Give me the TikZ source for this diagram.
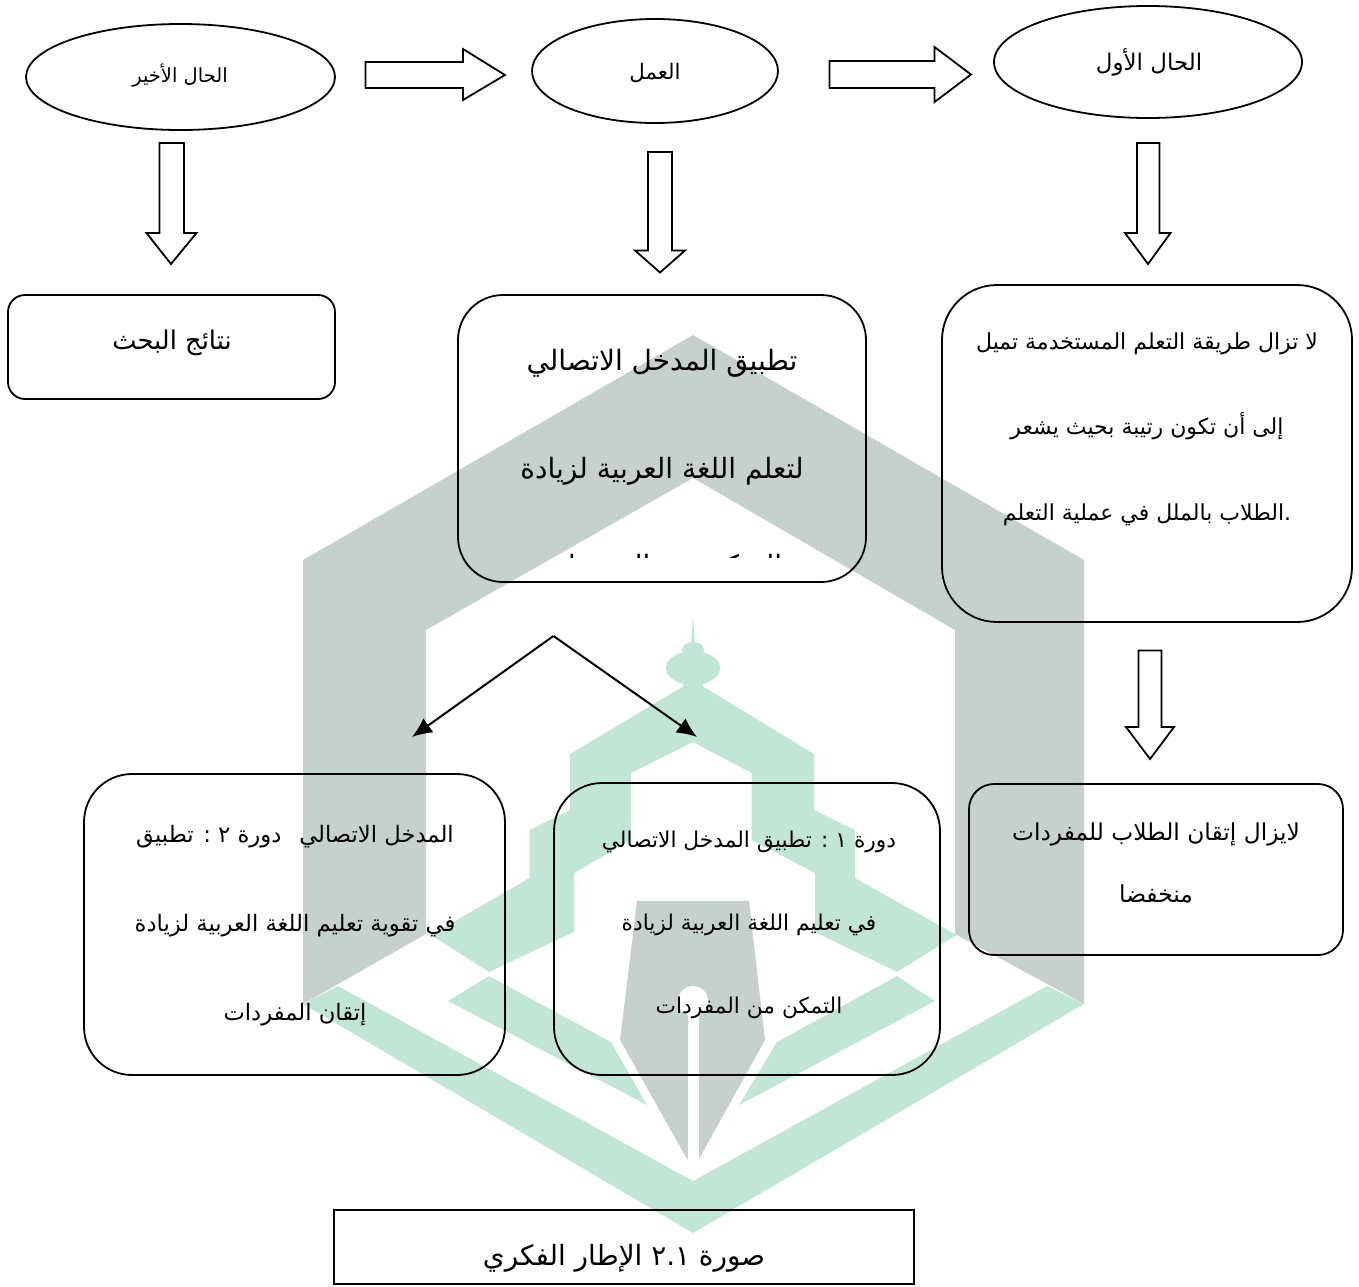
\documentclass[tikz,border=0pt]{standalone}
\usepackage{fontspec}
\usetikzlibrary{shapes.geometric,arrows.meta}
\TeXXeTstate=1
\newfontfamily\arabicfont[Script=Arabic]{DejaVu Sans}
\definecolor{wmgray}{RGB}{198,209,205}
\definecolor{wmgreen}{RGB}{194,230,213}
\newcommand{\artxt}[2]{\fontsize{#1}{#2}\arabicfont}
\newcommand{\rl}[1]{\beginR #1\endR}
\newcommand{\roundbox}[6]{\node[rbox,rounded corners={#6*0.75pt},minimum width={(#4-#2)*0.75pt},minimum height={(#5-#3)*0.75pt}] (#1) at ({(#2+#4)/2},{(#3+#5)/2}) {};}
\newcommand{\hblock}[8]{\draw[blockline] (#1,#4) -- (#3,#4) -- (#3,#6) -- (#2,#8) -- (#3,#7) -- (#3,#5) -- (#1,#5) -- cycle;}
\tikzset{
  rbox/.style={draw=black,line width=1.35pt,inner sep=0pt,rectangle},
  ovalbox/.style={draw=black,line width=1.35pt,inner sep=0pt,ellipse},
  blockline/.style={draw=black,line width=1.35pt,line join=miter},
  lab/.style={inner sep=0pt,align=center,text=black},
  thinarrow/.style={draw=black,line width=1.5pt,-{Latex[length=15pt,width=13pt]}}
}
\begin{document}
\begin{tikzpicture}[x=0.75pt,y=-0.75pt]
\useasboundingbox (0,0) rectangle (1359,1286);
% watermark
\fill[wmgray] (303,560)--(693,335)--(1084,560)--(1084,1004)--(955,934)--(955,630)--(693,478)--(426,630)--(426,934)--(303,1004)--cycle;
\fill[wmgreen] (303,1004)--(338,986)--(693,1181)--(1047,986)--(1084,1004)--(693,1233)--cycle;
\fill[wmgreen] (448,1001)--(489,976)--(611,1042)--(647,1105)--cycle;
\fill[wmgreen] (935,1001)--(897,976)--(777,1042)--(739,1105)--cycle;
\fill[wmgreen] (693,742)--(631,773)--(631,840)--(574,873)--(574,932)--(489,972)--(431,935)--(529.5,878)--(529.5,830)--(570,810)--(570,754)--(682,687)--(704,687)--(814,754)--(814,810)--(855,830)--(855,878)--(956.5,935)--(897,972)--(815,932)--(815,873)--(751.6,840)--(751.6,773)--cycle;
\fill[wmgreen] (693,668) ellipse [x radius=27,y radius=17];
\fill[wmgreen] (693,650) ellipse [x radius=11,y radius=8];
\fill[wmgreen] (691,645)--(693,615)--(695,645)--cycle;
\fill[wmgreen] (683,680) rectangle (703,692);
\fill[wmgray] (637,901)--(749,901)--(765,1040)--(699,1159)--(687,1159)--(620,1040)--cycle;
\fill[white] (693,1001) circle [radius=15];
\fill[white] (687.5,1001) rectangle (698.5,1165);
% ellipses
\node[ovalbox,minimum width={309*0.75pt},minimum height={106*0.75pt}] (e1) at (180.5,77) {};
\node[ovalbox,minimum width={246*0.75pt},minimum height={104*0.75pt}] (e2) at (655,71) {};
\node[ovalbox,minimum width={308*0.75pt},minimum height={112*0.75pt}] (e3) at (1148,62) {};
\node[lab,font=\artxt{14.6}{16}] (e1t) at (180,76) {\rl{الحال الأخير}};
\node[lab,font=\artxt{16}{18}] (e2t) at (655,73) {\rl{العمل}};
\node[lab,font=\artxt{17.2}{18}] (e3t) at (1149,62) {\rl{الحال الأول}};
% block arrows
\hblock{365.5}{505}{463}{62}{88}{49}{100}{75}
\hblock{829.5}{971}{934.5}{61}{88}{47}{102}{74.5}
\draw[blockline] (159.5,143)--(184,143)--(184,233)--(196.5,233)--(171,264)--(146.5,233)--(159.5,233)--cycle;
\draw[blockline] (648,152)--(672,152)--(672,250.5)--(685,250.5)--(660,272.5)--(635,250.5)--(648,250.5)--cycle;
\draw[blockline] (1137,143)--(1159.5,143)--(1159.5,233)--(1170.5,233)--(1148,264)--(1125,233)--(1137,233)--cycle;
\draw[blockline] (1138.5,650.5)--(1161.5,650.5)--(1161.5,727)--(1174,727)--(1150,759)--(1126,727)--(1138.5,727)--cycle;
% boxes
\roundbox{ba}{8}{295}{335}{399}{17}
\roundbox{bb}{458}{295}{866}{582}{45}
\roundbox{bc}{942}{285}{1352}{622}{55}
\roundbox{bd}{969}{784}{1343}{955}{25}
\roundbox{be}{554}{783}{940}{1075}{48}
\roundbox{bf}{84}{774}{505}{1075}{48}
\node[rbox,minimum width={580*0.75pt},minimum height={74*0.75pt}] (cap) at (624,1247) {};
% texts
\node[lab,font=\artxt{19.3}{20}] (bat) at (172,343) {\rl{نتائج البحث}};
\node[lab,font=\artxt{21}{81}] (bbt) at (662,417) {\rl{تطبيق المدخل الاتصالي}\\\rl{لتعلم اللغة العربية لزيادة}};
\begin{scope}
\clip (458,500) rectangle (866,557);
\node[lab,font=\artxt{21}{24}] (bb3) at (662,568) {\rl{التمكن من المفردات}};
\end{scope}
\node[lab,font=\artxt{16.5}{64}] (bct) at (1147,429) {\rl{لا تزال طريقة التعلم المستخدمة تميل}\\\rl{إلى أن تكون رتيبة بحيث يشعر}\\\rl{.الطلاب بالملل في عملية التعلم}};
\node[lab,font=\artxt{17.5}{46.5}] (bdt) at (1156,863) {\rl{لايزال إتقان الطلاب للمفردات}\\\rl{منخفضا}};
\node[lab,font=\artxt{16.3}{62}] (bet) at (749,925) {\rl{دورة ١ : تطبيق المدخل الاتصالي}\\\rl{في تعليم اللغة العربية لزيادة}\\\rl{التمكن من المفردات}};
\node[lab,font=\artxt{17}{66.5}] (bft) at (295,925.5) {\rl{المدخل الاتصالي\hspace{8pt} دورة ٢ : تطبيق}\\\rl{في تقوية تعليم اللغة العربية لزيادة}\\\rl{إتقان المفردات}};
\node[lab,font=\artxt{20.9}{22}] (capt) at (624,1258) {\rl{صورة \beginL ٢.١\endL{} الإطار الفكري}};
% split arrows
\coordinate (apex) at (553.5,636);
\coordinate (tipL) at (412,737);
\coordinate (tipR) at (697,737);
\draw[thinarrow] (apex) -- (tipL);
\draw[thinarrow] (apex) -- (tipR);
\end{tikzpicture}
\end{document}
